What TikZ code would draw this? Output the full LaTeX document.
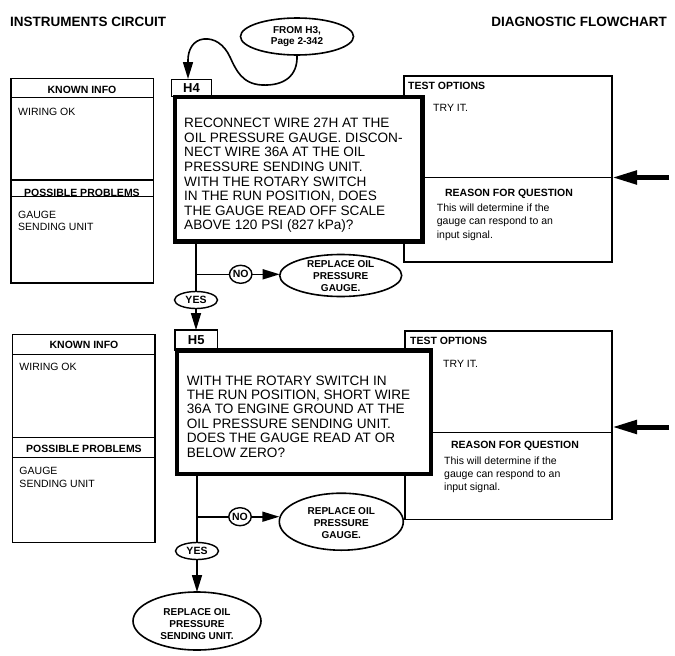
\documentclass[tikz,border=0pt]{standalone}
\usepackage{fontspec}
\setmainfont{Liberation Sans}
\usetikzlibrary{arrows.meta,shapes.geometric}
\begin{document}
\begin{tikzpicture}[x=1pt,y=-1pt,
  boxline/.style={line width=1.3pt},
  infobox/.style={draw, line width=1.3pt, anchor=north west, inner sep=0, outer sep=0},
  qbox/.style={draw, line width=4.6pt, fill=white, anchor=north west, inner sep=0, outer sep=0},
  tagbox/.style={draw, line width=1.3pt, fill=white, inner sep=0, outer sep=0, font=\fontsize{13}{13}\selectfont\bfseries},
  oval/.style={draw, ellipse, line width=1.6pt, inner sep=0, outer sep=0},
  ovaltext/.style={font=\fontsize{10}{12}\selectfont\bfseries, align=center, inner sep=0},
  smalloval/.style={draw, ellipse, line width=1.4pt, inner sep=0, outer sep=0, font=\fontsize{10.5}{11}\selectfont\bfseries},
  conn/.style={line width=1.6pt},
  arr/.style={line width=1.6pt, -{Triangle[length=17pt,width=10pt]}},
  bigarr/.style={line width=5pt, -{Triangle[length=25pt,width=13pt]}},
  titletext/.style={font=\fontsize{13.5}{14}\selectfont\bfseries, inner sep=0},
  hdr/.style={font=\fontsize{10.5}{12}\selectfont\bfseries, inner sep=0, anchor=base},
  hdrl/.style={font=\fontsize{10.5}{12}\selectfont\bfseries, inner sep=0, anchor=base west},
  body/.style={font=\fontsize{10.5}{12.5}\selectfont, inner sep=0, anchor=base west},
  big/.style={font=\fontsize{13.6}{14.6}\selectfont, inner sep=0, anchor=base west}
]
\useasboundingbox (0,0) rectangle (675,656);

% titles
\node[titletext, anchor=base west] (ttl1) at (10,26.5) {INSTRUMENTS CIRCUIT};
\node[titletext, anchor=base east] (ttl2) at (667,26) {DIAGNOSTIC FLOWCHART};

% ---------- H4 section ----------
\node[infobox, minimum width=142.5, minimum height=204.7] (lk1) at (11,78.3) {};
\draw[boxline] (11,97.7) -- (153.5,97.7);
\draw[boxline] (11,180) -- (153.5,180);
\draw[boxline] (11,196.7) -- (153.5,196.7);
\node[hdr] (k1h) at (82,93) {KNOWN INFO};
\node[body] (k1b) at (18,115.4) {WIRING OK};
\node[hdr] (p1h) at (82,196.4) {POSSIBLE PROBLEMS};
\node[body] (p1b) at (18,218) {\parbox[t]{120pt}{\baselineskip=12.4pt GAUGE\\SENDING UNIT}};

\node[infobox, minimum width=208, minimum height=186] (t1) at (404,76) {};
\draw[boxline] (404,177.7) -- (612,177.7);
\node[hdrl] (t1h) at (408,89.8) {TEST OPTIONS};
\node[body] (t1b) at (433,111.8) {TRY IT.};
\node[hdr] (r1h) at (509,196.5) {REASON FOR QUESTION};
\node[body] (r1b) at (436.7,211.8) {\parbox[t]{170pt}{\baselineskip=13.1pt This will determine if the\\gauge can respond to an\\input signal.}};

\node[tagbox, minimum width=39.5, minimum height=17.6] (h4tag) at (191.5,88) {H4};
\node[qbox, minimum width=247.7, minimum height=144.9] (h4box) at (175,96.8) {};
\node[big] (h4txt) at (184,127.6) {\parbox[t]{235pt}{\baselineskip=14.6pt RECONNECT WIRE 27H AT THE\\OIL PRESSURE GAUGE. DISCON-\\NECT WIRE 36A AT THE OIL\\PRESSURE SENDING UNIT.\\WITH THE ROTARY SWITCH\\IN THE RUN POSITION, DOES\\THE GAUGE READ OFF SCALE\\ABOVE 120 PSI (827 kPa)?}};

\node[oval, minimum width=113, minimum height=37] (from) at (297,36.5) {};
\node[ovaltext, font=\fontsize{10}{11.7}\selectfont\bfseries] (fromt) at (297,36.5) {FROM H3,\\Page 2-342};
\draw[arr] (from.south) .. controls (298,76) and (284,86) .. (262,85)
  .. controls (242,84) and (236,70) .. (230,57)
  .. controls (224,44) and (214,38) .. (204,39)
  .. controls (193,40) and (188,50) .. (188,60) -- (188,79);

\node[smalloval, minimum width=43, minimum height=17] (yes1) at (196,300) {YES};
\node[smalloval, minimum width=22.5, minimum height=18] (no1) at (240.7,274.3) {NO};
\node[oval, minimum width=122, minimum height=42] (rep1) at (340.7,275.5) {};
\node[ovaltext] (rep1t) at (340.7,276.5) {REPLACE OIL\\PRESSURE\\GAUGE.};
\draw[conn] (h4box.south -| yes1.north) -- (yes1.north);
\draw[conn] (yes1 |- no1) -- (no1.west);
\draw[arr] (no1.east) -- (no1.east -| rep1.west);

\coordinate (in1) at (669,177.5);
\draw[bigarr] (in1) -- (in1 -| t1.east);

% ---------- H5 section ----------
\node[infobox, minimum width=142.3, minimum height=208.4] (lk2) at (12.7,334.3) {};
\draw[boxline] (12.7,354.3) -- (155,354.3);
\draw[boxline] (12.7,437.3) -- (155,437.3);
\draw[boxline] (12.7,457.7) -- (155,457.7);
\node[hdr] (k2h) at (84,348.8) {KNOWN INFO};
\node[body] (k2b) at (19.3,370.4) {WIRING OK};
\node[hdr] (p2h) at (84,452) {POSSIBLE PROBLEMS};
\node[body] (p2b) at (19.3,474.4) {\parbox[t]{120pt}{\baselineskip=12.6pt GAUGE\\SENDING UNIT}};

\node[infobox, minimum width=207, minimum height=188.3] (t2) at (405,331) {};
\draw[boxline] (405,432.7) -- (612,432.7);
\node[hdrl] (t2h) at (410,344.8) {TEST OPTIONS};
\node[body] (t2b) at (443,367) {TRY IT.};
\node[hdr] (r2h) at (515,448.8) {REASON FOR QUESTION};
\node[body] (r2b) at (444,464.5) {\parbox[t]{160pt}{\baselineskip=13pt This will determine if the\\gauge can respond to an\\input signal.}};

\node[tagbox, minimum width=42.5, minimum height=20.5] (h5tag) at (196.2,340.3) {H5};
\node[qbox, minimum width=253.8, minimum height=123.5] (h5box) at (177,350.5) {};
\node[big] (h5txt) at (186.7,385) {\parbox[t]{240pt}{\baselineskip=14.4pt WITH THE ROTARY SWITCH IN\\THE RUN POSITION, SHORT WIRE\\36A TO ENGINE GROUND AT THE\\OIL PRESSURE SENDING UNIT.\\DOES THE GAUGE READ AT OR\\BELOW ZERO?}};

\draw[arr] (yes1.south) -- (yes1.south |- h5tag.north);

\coordinate (in2) at (669,427);
\draw[bigarr] (in2) -- (in2 -| t2.east);

\node[smalloval, minimum width=43, minimum height=17] (yes2) at (197,551) {YES};
\node[smalloval, minimum width=22.5, minimum height=18] (no2) at (240,516.7) {NO};
\node[oval, minimum width=124, minimum height=57] (rep2) at (341.3,521.7) {};
\node[ovaltext] (rep2t) at (341.3,523) {REPLACE OIL\\PRESSURE\\GAUGE.};
\draw[conn] (h5box.south -| yes2.north) -- (yes2.north);
\draw[conn] (yes2 |- no2) -- (no2.west);
\draw[arr] (no2.east) -- (no2.east -| rep2.west);

\node[oval, minimum width=128, minimum height=58] (rep3) at (197,621) {};
\node[ovaltext] (rep3t) at (197,624) {REPLACE OIL\\PRESSURE\\SENDING UNIT.};
\draw[arr] (yes2.south) -- (rep3.north);

\end{tikzpicture}
\end{document}
